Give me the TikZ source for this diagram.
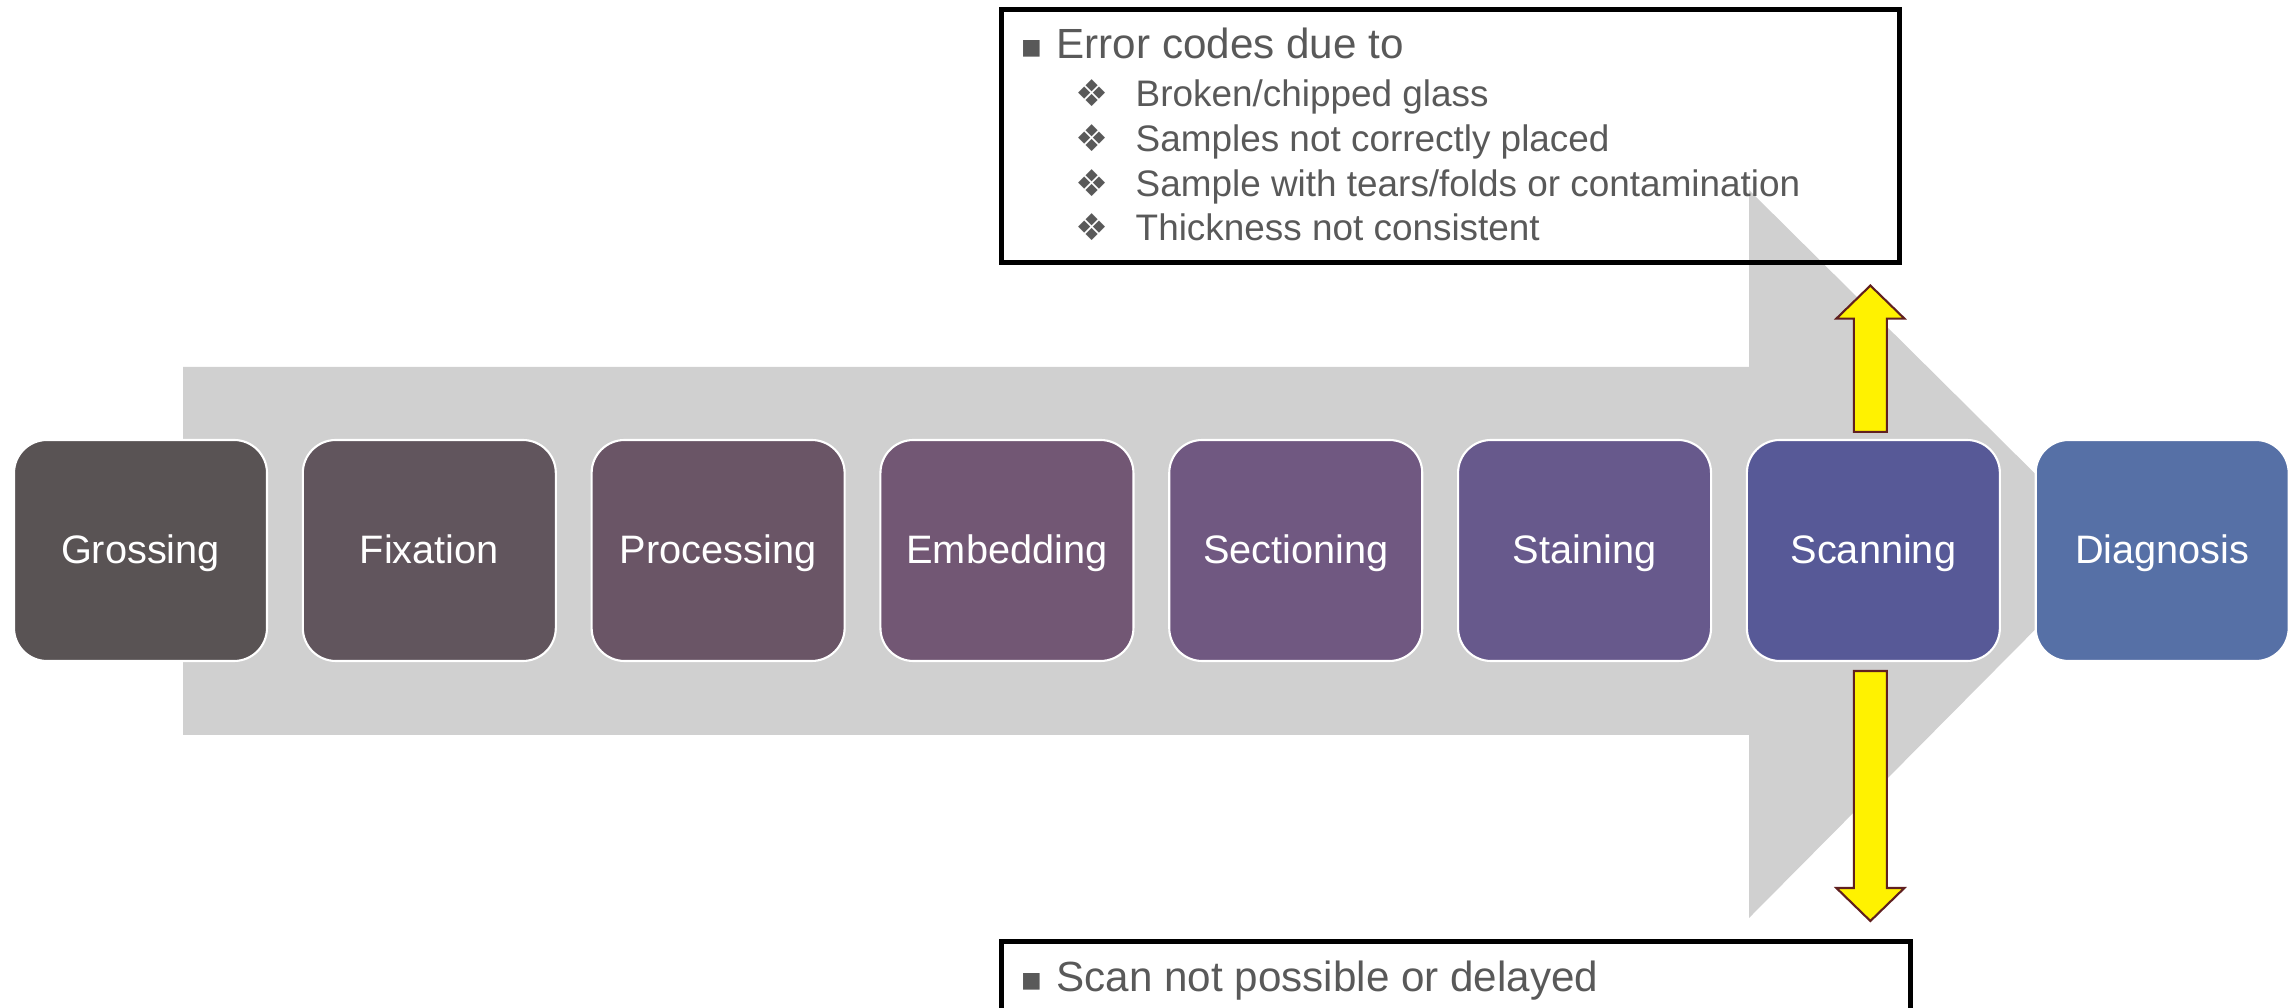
\documentclass[tikz,border=0pt]{standalone}
\usepackage{fontspec}
\setmainfont{Liberation Sans}
\newfontfamily\symfont{DejaVu Sans}
\usetikzlibrary{positioning,calc}

\definecolor{c1}{RGB}{89,83,84}
\definecolor{c2}{RGB}{97,85,93}
\definecolor{c3}{RGB}{106,85,102}
\definecolor{c4}{RGB}{114,87,116}
\definecolor{c5}{RGB}{112,88,129}
\definecolor{c6}{RGB}{103,89,140}
\definecolor{c7}{RGB}{87,89,151}
\definecolor{c8}{RGB}{86,112,166}
\definecolor{flowgrey}{RGB}{208,208,208}
\definecolor{notetext}{RGB}{89,89,89}
\definecolor{arrowedge}{RGB}{96,32,32}

\newcommand{\sqbul}{\makebox[0.36cm][l]{\raisebox{0.3pt}{\symfont\fontsize{9.5}{9.5}\selectfont\char"25AA}}}
\newcommand{\dmbul}{\makebox[0.60cm][l]{\symfont\char"2756}}
% yellow block arrow from #1 to #2 (vertical)
\newcommand{\blockarrow}[2]{%
  \draw[yellow arrow] ($(#1)+(-0.165,0)$) -- ($(#2)!0.33cm!(#1)+(-0.165,0)$)
    -- ($(#2)!0.33cm!(#1)+(-0.34,0)$) -- (#2) -- ($(#2)!0.33cm!(#1)+(0.34,0)$)
    -- ($(#2)!0.33cm!(#1)+(0.165,0)$) -- ($(#1)+(0.165,0)$) -- cycle;}

\begin{document}
\begin{tikzpicture}[node distance=0.337cm,
stage node/.style={rectangle,rounded corners=0.33cm,draw=white,line width=0.6pt,
  minimum width=2.53cm,minimum height=2.21cm,text=white,text height=0.72em,text depth=0pt,
  font=\fontsize{11.3}{13}\selectfont},
note box/.style={draw=black,line width=1.3pt},
big text/.style={anchor=base west,inner sep=0pt,text=notetext,font=\fontsize{12}{14}\selectfont},
small text/.style={anchor=base west,inner sep=0pt,text=notetext,font=\fontsize{10.5}{12.6}\selectfont},
yellow arrow/.style={fill=yellow,draw=arrowedge,line width=0.6pt}]

\useasboundingbox (0,0) rectangle (22.93,10.08);
\clip (0,0) rectangle (22.93,10.08);

% big grey arrow behind the stages
\fill[flowgrey] (1.83,6.41) -- (17.49,6.41) -- (17.49,8.18) -- (21.13,4.57)
  -- (17.49,0.90) -- (17.49,2.73) -- (1.83,2.73) -- cycle;

\node[stage node,fill=c1] (1) at (1.405,4.575) {Grossing};
\node[stage node,fill=c2] (2) [right=of 1] {Fixation};
\node[stage node,fill=c3] (3) [right=of 2] {Processing};
\node[stage node,fill=c4] (4) [right=of 3] {Embedding};
\node[stage node,fill=c5] (5) [right=of 4] {Sectioning};
\node[stage node,fill=c6] (6) [right=of 5] {Staining};
\node[stage node,fill=c7] (7) [right=of 6] {Scanning};
\node[stage node,fill=c8] (8) [right=of 7] {Diagnosis};

% notes
\node[note box,minimum width=8.98cm,minimum height=2.53cm,anchor=north west] (err) at (9.99,10.01) {};
\node[big text] (e0) at (10.20,9.49) {\sqbul Error codes due to};
\node[small text] (e1) at (10.75,9.01) {\dmbul Broken/chipped glass};
\node[small text] (e2) at (10.75,8.56) {\dmbul Samples not correctly placed};
\node[small text] (e3) at (10.75,8.11) {\dmbul Sample with tears/folds or contamination};
\node[small text] (e4) at (10.75,7.67) {\dmbul Thickness not consistent};

\node[note box,minimum width=9.09cm,minimum height=1.2cm,anchor=north west] (scn) at (9.99,0.69) {};
\node[big text] (s0) at (10.20,0.16) {\sqbul Scan not possible or delayed};

\coordinate (upfrom) at ($(7.north)+(-0.03,0.07)$);
\coordinate (upto) at ($(upfrom |- err.south)+(0,-0.21)$);
\coordinate (dnfrom) at ($(7.south)+(-0.03,-0.09)$);
\coordinate (dnto) at ($(dnfrom |- scn.north)+(0,0.18)$);
\blockarrow{upfrom}{upto}
\blockarrow{dnfrom}{dnto}

\end{tikzpicture}
\end{document}
